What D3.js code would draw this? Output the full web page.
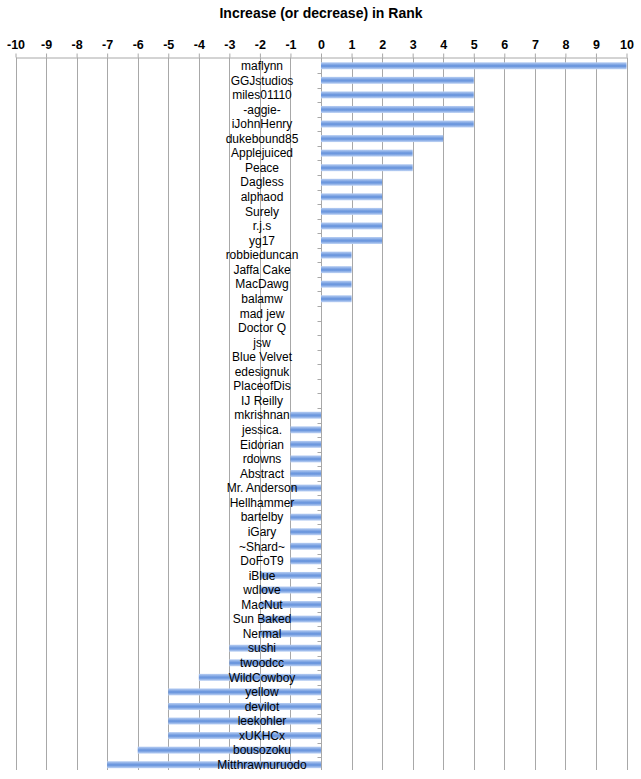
<!DOCTYPE html>
<html>
<head>
<meta charset="utf-8">
<script src="https://cdn.jsdelivr.net/npm/d3@7"></script>
<style>
  body { margin: 0; background: #fff; }
  svg { font-family: "Liberation Sans", Arial, Helvetica, sans-serif; }
</style>
</head>
<body>
<svg id="chart"></svg>
<script>
const names = [
  "maflynn", "GGJstudios", "miles01110", "-aggie-", "iJohnHenry", "dukebound85",
  "Applejuiced", "Peace", "Dagless", "alphaod", "Surely", "r.j.s", "yg17",
  "robbieduncan", "Jaffa Cake", "MacDawg", "balamw", "mad jew", "Doctor Q", "jsw",
  "Blue Velvet", "edesignuk", "PlaceofDis", "IJ Reilly", "mkrishnan", "jessica.",
  "Eidorian", "rdowns", "Abstract", "Mr. Anderson", "Hellhammer", "bartelby", "iGary",
  "~Shard~", "DoFoT9", "iBlue", "wdlove", "MacNut", "Sun Baked", "Nermal", "sushi",
  "twoodcc", "WildCowboy", "yellow", "devilot", "leekohler", "xUKHCx", "bousozoku",
  "Mitthrawnuruodo"
];
const rankChange = [
  10, 5, 5, 5, 5, 4,
  3, 3, 2, 2, 2, 2, 2,
  1, 1, 1, 1, 0, 0, 0,
  0, 0, 0, 0, -1, -1,
  -1, -1, -1, -1, -1, -1, -1,
  -1, -1, -2, -2, -2, -2, -2, -3,
  -3, -4, -5, -5, -5, -5, -6,
  -7
];
const xTicks = d3.range(-10, 11);
const title = "Increase (or decrease) in Rank";

const width = 641, height = 779;
const margin = { top: 57.5, right: 14.5, bottom: 8, left: 15.5 };
const labelX = 262;

const svg = d3.select("#chart").attr("width", width).attr("height", height);

const x = d3.scaleLinear().domain([-10, 10]).range([margin.left, width - margin.right]);
const y = d3.scaleBand().domain(names).range([margin.top + 1, height - margin.bottom + 1]).paddingInner(0.52).paddingOuter(0.26);

const defs = svg.append("defs");
const grad = defs.append("linearGradient").attr("id", "barGrad")
  .attr("x1", 0).attr("y1", 0).attr("x2", 0).attr("y2", 1);
grad.append("stop").attr("offset", "0%").attr("stop-color", "#b9cff3");
grad.append("stop").attr("offset", "45%").attr("stop-color", "#6d98de");
grad.append("stop").attr("offset", "60%").attr("stop-color", "#6d98de");
grad.append("stop").attr("offset", "100%").attr("stop-color", "#c3d6f5");

// title
svg.append("text")
  .attr("x", x(0)).attr("y", 18)
  .attr("text-anchor", "middle")
  .attr("font-size", 14).attr("font-weight", "bold")
  .text(title);

// vertical gridlines
svg.append("g")
  .selectAll("line")
  .data(xTicks)
  .join("line")
  .attr("x1", d => Math.round(x(d)) + 0.5).attr("x2", d => Math.round(x(d)) + 0.5)
  .attr("y1", margin.top).attr("y2", height - margin.bottom - 1)
  .attr("stroke", "#a8a8a8").attr("stroke-width", 1);

// top value axis
const xAxis = svg.append("g")
  .attr("transform", `translate(0, ${margin.top})`)
  .call(d3.axisTop(x).tickValues(xTicks).tickSize(4).tickSizeOuter(0).tickFormat(d3.format("d")));
xAxis.select(".domain").attr("stroke", "#a8a8a8");
xAxis.selectAll(".tick line").attr("stroke", "#a8a8a8");
xAxis.selectAll(".tick text")
  .attr("font-family", "'Liberation Sans', Arial, sans-serif")
  .attr("font-size", 12.5).attr("font-weight", "bold").attr("fill", "#000")
  .attr("dy", "-0.15em")
  .text(d => d < 0 ? "-" + Math.abs(d) : d);

// bars
svg.append("g")
  .selectAll("rect")
  .data(names)
  .join("rect")
  .attr("x", (d, i) => x(Math.min(0, rankChange[i])))
  .attr("y", d => y(d))
  .attr("width", (d, i) => Math.abs(x(rankChange[i]) - x(0)))
  .attr("height", y.bandwidth())
  .attr("fill", "url(#barGrad)");

// category axis at zero with ticks between categories
const zx = Math.round(x(0)) + 0.5;
svg.append("g")
  .selectAll("line")
  .data(names.slice(1))
  .join("line")
  .attr("x1", zx - 4).attr("x2", zx)
  .attr("y1", d => Math.round(y(d) - y.step() * y.paddingInner() / 2) + 0.5)
  .attr("y2", d => Math.round(y(d) - y.step() * y.paddingInner() / 2) + 0.5)
  .attr("stroke", "#a8a8a8");

// labels
svg.append("g")
  .selectAll("text")
  .data(names)
  .join("text")
  .attr("x", labelX)
  .attr("y", d => y(d) + y.bandwidth() / 2)
  .attr("dy", "0.35em")
  .attr("text-anchor", "middle")
  .attr("font-size", 12)
  .attr("fill", "#000")
  .text(d => d);
</script>
</body>
</html>
